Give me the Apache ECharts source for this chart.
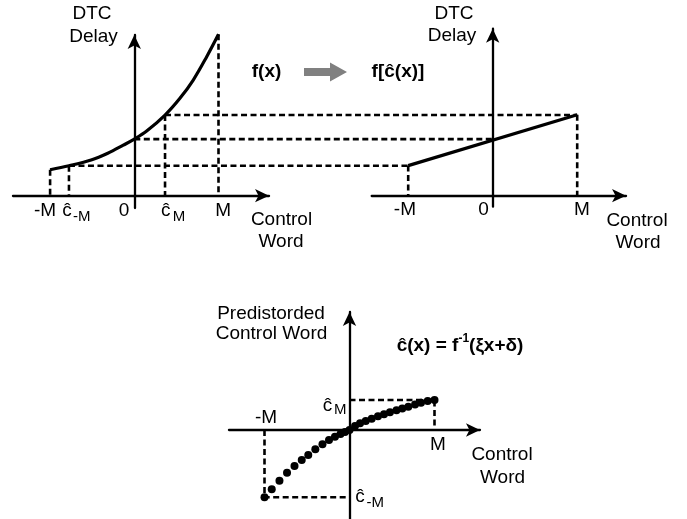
<!DOCTYPE html>
<html><head><meta charset="utf-8">
<script src="https://cdn.jsdelivr.net/npm/echarts@6/dist/echarts.min.js"></script>
<style>html,body{margin:0;padding:0;background:#fff}#c{width:687px;height:519px}</style>
</head><body><div id="c"></div>
<script>
// ---------------- DATA ----------------
// Top-left: DTC delay f(x) vs control word x (x in units of M)
const curveX     = [-1, -0.776, -0.513, -0.315, -0.131, 0, 0.147, 0.365, 0.542, 0.700, 0.860, 1.0];
const curveDelay = [0.308, 0.356, 0.424, 0.504, 0.600, 0.672, 0.768, 0.958, 1.157, 1.374, 1.651, 1.917];
// key control words marked on the top-left axis: -M, c^-M, 0, c^M, M
const keyWords   = [-1, -0.776, 0, 0.365, 1];
// Top-right: linearised delay f[c^(x)]
const linX       = [-1, 1];
const linDelay   = [0.356, 0.958];
// Bottom: predistorted control word c^(x) (dots)
const dotX = [-1, -0.915, -0.824, -0.735, -0.647, -0.562, -0.485, -0.402, -0.318, -0.241, -0.171, -0.106, -0.053, 0,
              0.065, 0.124, 0.191, 0.261, 0.335, 0.406, 0.476, 0.553, 0.621, 0.692, 0.771, 0.841, 0.920, 1.0];
const dotY = [-0.792, -0.698, -0.596, -0.502, -0.424, -0.353, -0.294, -0.227, -0.168, -0.118, -0.079, -0.047, -0.024, 0,
              0.047, 0.079, 0.106, 0.133, 0.161, 0.185, 0.208, 0.232, 0.253, 0.274, 0.300, 0.321, 0.341, 0.353];

// ---------------- LAYOUT ----------------
const P = [
  {ox:134.3, oy:195.7, u:84.2, xmin:-1.441, xmax:1.600, ymin:-0.146, ymax:1.909},
  {ox:492.7, oy:195.7, u:84.5, xmin:-1.432, xmax:1.578, ymin:-0.130, ymax:1.976},
  {ox:349.5, oy:430.0, u:85.0, xmin:-1.418, xmax:1.535, ymin:-1.047, ymax:1.388}
];
const FONT = '"Liberation Sans", Arial, Helvetica, sans-serif';
const BLACK = '#000';
const DASH = [6, 3.5];
const DASH_W = 2.6;

function gridOf(p){ return {left:p.ox+p.xmin*p.u, top:p.oy-p.ymax*p.u, width:(p.xmax-p.xmin)*p.u, height:(p.ymax-p.ymin)*p.u, containLabel:false}; }
function axisOf(i, p, dim){
  return {type:'value', gridIndex:i, min: dim==='x'?p.xmin:p.ymin, max: dim==='x'?p.xmax:p.ymax,
    axisLine:{show:true, onZero:true, symbol:['none','arrow'], symbolSize:[10,14], lineStyle:{color:BLACK, width:2.3}},
    axisTick:{show:false}, axisLabel:{show:false}, splitLine:{show:false}};
}
function zip(a,b){ return a.map((v,i)=>[v,b[i]]); }
function seg(g, pts, w){ return {type:'line', xAxisIndex:g, yAxisIndex:g, data:pts, symbol:'none', clip:false, silent:true,
  lineStyle:{color:BLACK, width:w||DASH_W, type: w ? 'solid' : DASH, cap:'butt'}, z: w ? 3 : 2}; }
function delayAt(x){ return curveDelay[curveX.indexOf(x)]; }

const series = [];
// top-left curve
series.push(Object.assign(seg(0, zip(curveX, curveDelay), 3.2), {smooth:0.35}));
// top-left vertical guides
[keyWords[0], keyWords[1], keyWords[3], keyWords[4]].forEach(x => series.push(seg(0, [[x, delayAt(x)], [x, 0]])));
// top-right linear line
series.push(seg(1, zip(linX, linDelay), 3.2));
series.push(seg(1, [[linX[0], linDelay[0]], [linX[0], 0]]));
series.push(seg(1, [[linX[1], linDelay[1]], [linX[1], 0]]));
// bottom dashed guides
const nD = dotX.length - 1;
series.push(seg(2, [[0, dotY[nD]], [dotX[nD], dotY[nD]], [dotX[nD], 0]]));
series.push(seg(2, [[dotX[0], 0], [dotX[0], dotY[0]], [0, dotY[0]]]));
// bottom dots
series.push({type:'scatter', xAxisIndex:2, yAxisIndex:2, data:zip(dotX, dotY), symbol:'circle', symbolSize:8,
  itemStyle:{color:BLACK, opacity:1}, clip:false, silent:true, z:5});

const chart = echarts.init(document.getElementById('c'));
chart.setOption({
  animation:false, backgroundColor:'#fff',
  grid: P.map(gridOf),
  xAxis: P.map((p,i)=>axisOf(i,p,'x')),
  yAxis: P.map((p,i)=>axisOf(i,p,'y')),
  series: series
});

// ---------------- annotations via the chart's scales ----------------
const px = (g, v) => chart.convertToPixel({gridIndex:g}, v);
const G = [];
function dashLine(a, b){ G.push({type:'polyline', z:1, silent:true, shape:{points:[a,b]}, style:{stroke:BLACK, lineWidth:DASH_W, lineDash:DASH, fill:null}}); }
function txt(t, x, y, size, bold, align){
  G.push({type:'text', x:x, y:y, z:10, silent:true, style:{text:t, fontSize:size, fontFamily:FONT, fontWeight:bold?'bold':'normal',
    fill:BLACK, align:align||'center', verticalAlign:'middle'}});
}
// connectors between the two top panels
[[keyWords[1], linX[0]], [0, 0], [keyWords[3], linX[1]]].forEach(([xl, xr]) => {
  const a = px(0, [xl, delayAt(xl)]);
  const b = px(1, [xr, 0]);
  dashLine(a, [b[0], a[1]]);
});

// top-left texts
txt('DTC', 92, 14, 19); txt('Delay', 93.5, 37, 19);
txt('Control', 281.5, 220, 19); txt('Word', 281, 242, 19);
const tl = keyWords.map(x => px(0, [x, 0]));
const ty = tl[0][1] + 15.5;
txt('-M', tl[0][0] - 5, ty, 19);
txt('ĉ', tl[1][0] - 2, ty, 19); txt('-M', tl[1][0] + 4, ty + 6, 15, false, 'left');
txt('0', tl[2][0] - 10.3, ty, 19);
txt('ĉ', tl[3][0] + 0.7, ty, 19); txt('M', tl[3][0] + 7.7, ty + 6, 15, false, 'left');
txt('M', tl[4][0] + 4.7, ty, 19);

// top-right texts
txt('DTC', 454, 13.5, 19); txt('Delay', 452, 36, 19);
txt('Control', 637, 221, 19); txt('Word', 638, 243, 19);
const tr = [linX[0], 0, linX[1]].map(x => px(1, [x, 0]));
const ty2 = tr[0][1] + 14.5;
txt('-M', tr[0][0] - 3.3, ty2, 19);
txt('0', tr[1][0] - 9.2, ty2, 19);
txt('M', tr[2][0] + 4.7, ty2, 19);

// middle
txt('f(x)', 266.5, 72, 19, true);
G.push({type:'polygon', silent:true, shape:{points:[[304,68],[330,68],[330,62.5],[347,72],[330,81.5],[330,76],[304,76]]}, style:{fill:'#808080'}});
txt('f[ĉ(x)]', 398, 72, 19, true);

// bottom texts
txt('Predistorded', 271, 313.5, 19); txt('Control Word', 271.5, 333.5, 19);
G.push({type:'text', x:460, y:344, z:10, silent:true, style:{
  text:'{m|ĉ(x) = f}{s|-1}{m|(ξx+δ)}', fontFamily:FONT, fontWeight:'bold', fill:BLACK, align:'center', verticalAlign:'middle',
  rich:{m:{fontSize:19, fontWeight:'bold', fontFamily:FONT, lineHeight:22, verticalAlign:'bottom'},
        s:{fontSize:12, fontWeight:'bold', fontFamily:FONT, lineHeight:14, verticalAlign:'top'}}}});
txt('Control', 502, 455, 19); txt('Word', 502.5, 478, 19);
const bm = px(2, [dotX[0], 0]), bM = px(2, [dotX[nD], 0]);
const bcM = px(2, [0, dotY[nD]]), bcm = px(2, [0, dotY[0]]);
txt('-M', bm[0] + 1.5, bm[1] - 12, 19);
txt('M', bM[0] + 3.5, bM[1] + 15, 19);
txt('ĉ', bcM[0] - 22, bcM[1] + 6, 19); txt('M', bcM[0] - 15.5, bcM[1] + 10, 15, false, 'left');
txt('ĉ', bcm[0] + 10.5, bcm[1] - 0.7, 19); txt('-M', bcm[0] + 17, bcm[1] + 5.7, 15, false, 'left');

chart.setOption({graphic: G});
</script></body></html>
